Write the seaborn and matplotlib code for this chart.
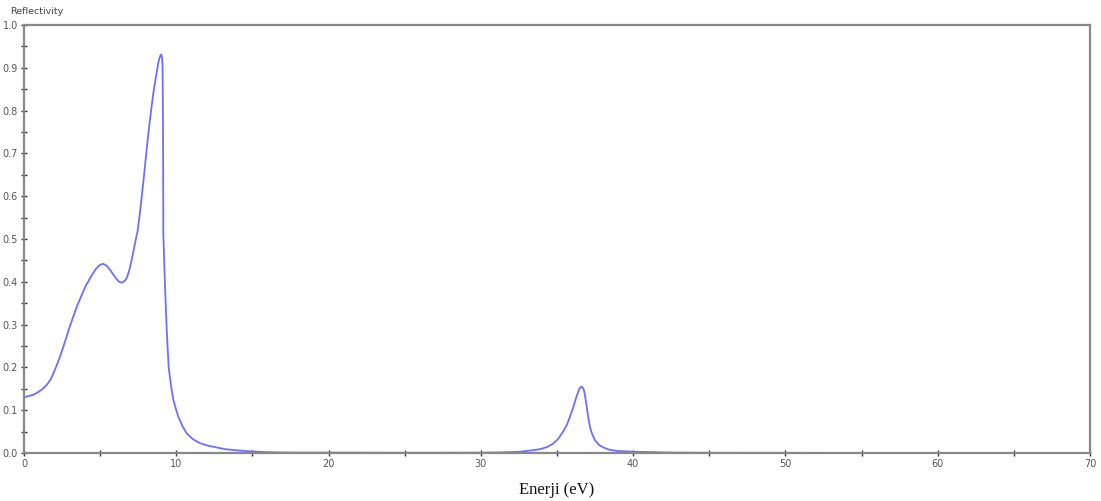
import matplotlib
matplotlib.use("Agg")
import matplotlib.pyplot as plt
import seaborn as sns
import pandas as pd
from matplotlib.ticker import MultipleLocator, FormatStrFormatter

energy = [0.0, 0.3, 0.6, 0.83, 1.2, 1.49, 1.75, 1.93, 2.15, 2.36, 2.6, 2.80, 3.0,
          3.24, 3.5, 3.79, 4.05, 4.33, 4.55, 4.77, 5.0, 5.21, 5.45, 5.65, 5.9,
          6.09, 6.25, 6.41, 6.58, 6.74, 6.9, 7.07, 7.29, 7.45, 7.6, 7.73, 7.9,
          8.05, 8.2, 8.38, 8.52, 8.67, 8.8, 8.89, 8.96, 9.02, 9.07, 9.10, 9.13,
          9.15, 9.26, 9.38, 9.5, 9.65, 9.8, 10.0, 10.13, 10.4, 10.68, 11.1, 11.56,
          12.1, 12.65, 13.2, 13.74, 14.8, 15.9, 17.5, 20.0, 25.0, 30.0, 31.5,
          32.57, 33.3, 33.9, 34.35, 34.75, 35.1, 35.4, 35.65, 35.85, 36.05, 36.18,
          36.32, 36.46, 36.55, 36.62, 36.70, 36.77, 36.86, 36.95, 37.05, 37.16,
          37.3, 37.49, 37.75, 38.04, 38.4, 38.9, 40.0, 42.5, 45.0, 50.0, 55.0,
          60.0, 62.2]
reflectivity = [0.130, 0.133, 0.136, 0.140, 0.149, 0.159, 0.172, 0.186, 0.205, 0.225,
                0.250, 0.272, 0.295, 0.319, 0.345, 0.369, 0.390, 0.408, 0.421, 0.432,
                0.440, 0.442, 0.437, 0.428, 0.415, 0.406, 0.400, 0.398, 0.401, 0.408,
                0.425, 0.451, 0.490, 0.517, 0.557, 0.599, 0.655, 0.708, 0.757, 0.810,
                0.848, 0.880, 0.908, 0.922, 0.929, 0.931, 0.922, 0.903, 0.750, 0.510,
                0.389, 0.280, 0.200, 0.158, 0.125, 0.100, 0.085, 0.063, 0.046, 0.032,
                0.023, 0.017, 0.013, 0.009, 0.007, 0.004, 0.002, 0.001, 0.001, 0.0005,
                0.0008, 0.0015, 0.003, 0.006, 0.009, 0.014, 0.022, 0.034, 0.050, 0.066,
                0.085, 0.105, 0.120, 0.136, 0.149, 0.154, 0.155, 0.152, 0.147, 0.130,
                0.108, 0.084, 0.062, 0.045, 0.030, 0.019, 0.013, 0.008, 0.005, 0.003,
                0.001, 0.0005, 0.0003, 0.0002, 0.0001, 0.0001]

x_major = [0, 10, 20, 30, 40, 50, 60, 70]

df = pd.DataFrame({"Energy": energy, "Reflectivity": reflectivity})

sns.set_style("white")
plt.rcParams["font.family"] = ["DejaVu Sans"]

fig = plt.figure(figsize=(11.01, 5.01), dpi=100)
ax = fig.add_axes([24 / 1101, 48 / 501, (1090 - 24) / 1101, (453 - 25) / 501])

sns.lineplot(data=df, x="Energy", y="Reflectivity", ax=ax, color="#6e6eff",
             linewidth=1.3, estimator=None, sort=False)

ax.set_xlim(0, 70)
ax.set_ylim(0, 1.0)
ax.set_xticks(x_major)
ax.xaxis.set_minor_locator(MultipleLocator(5))
ax.yaxis.set_major_locator(MultipleLocator(0.1))
ax.yaxis.set_minor_locator(MultipleLocator(0.05))
ax.yaxis.set_major_formatter(FormatStrFormatter("%.1f"))

for s in ax.spines.values():
    s.set_color("#888888")
    s.set_linewidth(1.6)

ax.tick_params(which="both", direction="inout", colors="#333333", labelcolor="#555555",
               labelsize=7, bottom=True, left=True, top=False, right=False)
ax.tick_params(which="major", length=5, width=1.0, pad=2)
ax.tick_params(which="minor", length=5, width=1.0)

ax.set_ylabel("")
ax.set_xlabel("Enerji (eV)", fontsize=12, family=["Liberation Serif"], color="#111111", labelpad=9)
fig.text(10 / 1101, 1 - 12 / 501, "Reflectivity", fontsize=6.8, color="#444444",
         ha="left", va="center")

fig.savefig("out.png", dpi=100)
